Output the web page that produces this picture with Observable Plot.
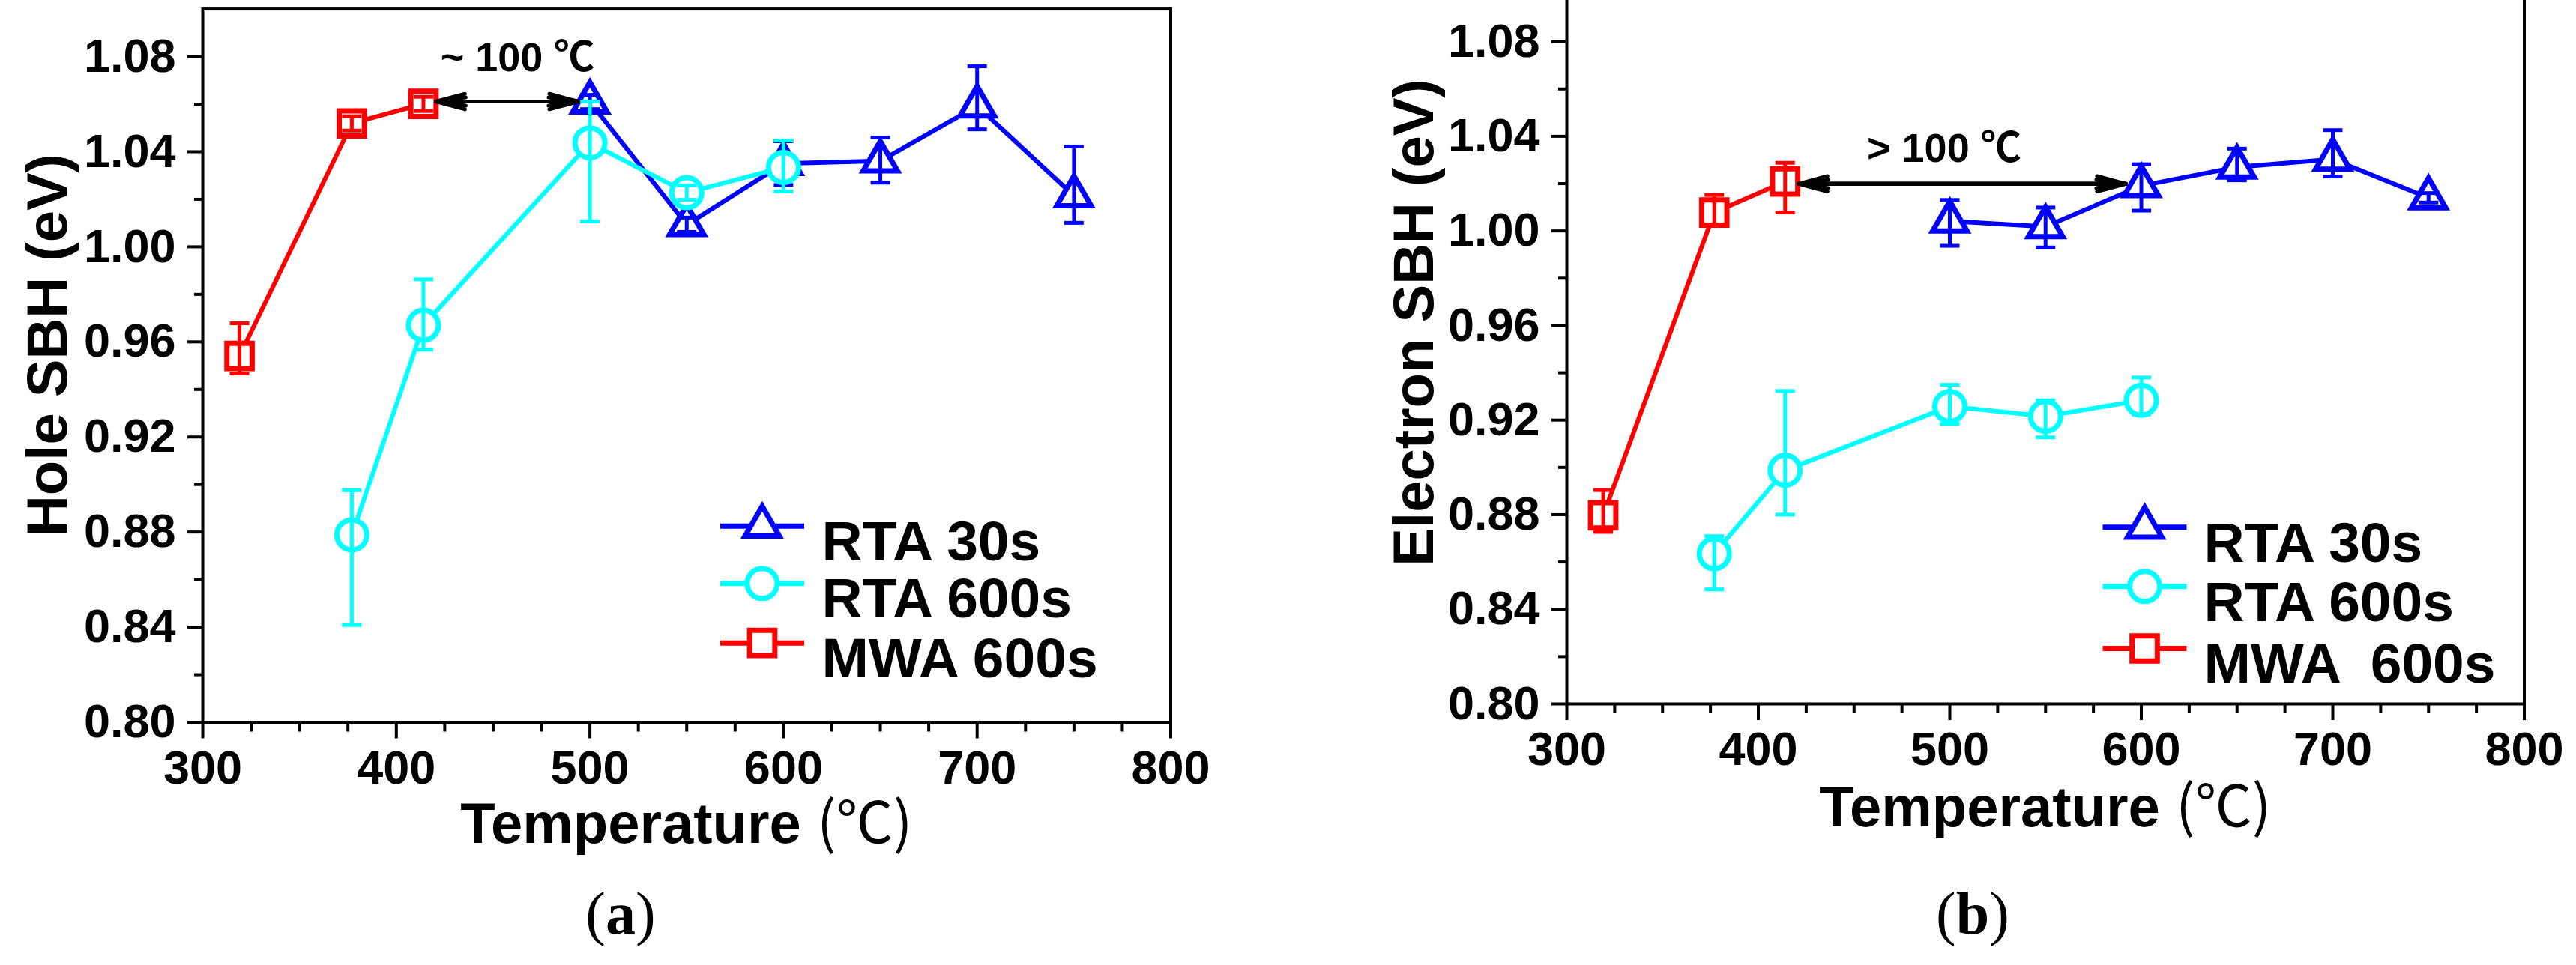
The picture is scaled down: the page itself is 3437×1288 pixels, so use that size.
<!DOCTYPE html>
<html>
<head>
<meta charset="utf-8">
<script src="https://cdn.jsdelivr.net/npm/d3@7"></script>
<script src="https://cdn.jsdelivr.net/npm/@observablehq/plot@0.6"></script>
<style>
  body { margin: 0; background: white; }
  #fig { position: relative; width: 3437px; height: 1288px; overflow: hidden; background: white; }
  #fig svg { position: absolute; overflow: visible; }
</style>
</head>
<body>
<div id="fig"></div>
<script>
// series
const seriesNames = ["RTA 30s", "RTA 600s", "MWA 600s"]
const legendA = ["RTA 30s", "RTA 600s", "MWA 600s"]
const legendB = ["RTA 30s", "RTA 600s", "MWA  600s"]
const seriesColors = ["#0000ff", "#00ffff", "#ff0000"]

// annealing temperatures (℃)
const tempRta30 = [500, 550, 600, 650, 700, 750]
const tempRta600 = [377, 414, 500, 550, 600]
const tempMwa600 = [319, 377, 414]

// (a) hole SBH (eV), upper / lower error
const holeRta30 = [1.0609, 1.0093, 1.0350, 1.0361, 1.0592, 1.0215]
const holeRta30Up = [0.003, 0.003, 0.0094, 0.0099, 0.0167, 0.0207]
const holeRta30Dn = [0.003, 0.003, 0.009, 0.0091, 0.0098, 0.0114]
const holeRta600 = [0.8788, 0.967, 1.0437, 1.0228, 1.0334]
const holeRta600Up = [0.0188, 0.0193, 0.0174, 0.003, 0.0113]
const holeRta600Dn = [0.0379, 0.0103, 0.033, 0.003, 0.0101]
const holeMwa600 = [0.9541, 1.0519, 1.0601]
const holeMwa600Up = [0.0137, 0.003, 0.003]
const holeMwa600Dn = [0.0074, 0.003, 0.003]

// (b) electron SBH (eV), upper / lower error
const elecRta30 = [1.0042, 1.0018, 1.0191, 1.0270, 1.0303, 1.0140]
const elecRta30Up = [0.0089, 0.0081, 0.0091, 0.0078, 0.0123, 0.002]
const elecRta30Dn = [0.0105, 0.0088, 0.0105, 0.0056, 0.0073, 0.002]
const elecRta600 = [0.8635, 0.8988, 0.9258, 0.9216, 0.9284]
const elecRta600Up = [0.0074, 0.0335, 0.0091, 0.0068, 0.0096]
const elecRta600Dn = [0.0151, 0.0188, 0.0074, 0.0089, 0.006]
const elecMwa600 = [0.8797, 1.0078, 1.0209]
const elecMwa600Up = [0.0107, 0.0074, 0.0079]
const elecMwa600Dn = [0.007, 0.0057, 0.0131]

// ticks
const xTicks = [300, 400, 500, 600, 700, 800]
const xMinor = d3.range(325, 800, 25).filter(d => d % 100 !== 0)
const yTicks = [0.80, 0.84, 0.88, 0.92, 0.96, 1.00, 1.04, 1.08]
const yMinor = [0.82, 0.86, 0.90, 0.94, 0.98, 1.02, 1.06]

// gap annotations: label, label position, arrow [x1, x2, y]
const gapLabels = ["~ 100 ℃", "> 100 ℃"]
const gapLabelAt = [[462.6, 1.0794], [497, 1.0348]]
const gapArrows = [[420.5, 494, 1.0611], [421, 592, 1.0199]]

const yTitles = ["Hole SBH (eV)", "Electron SBH (eV)"]
const panelTags = ["a", "b"]

const rows = (name, temps, vals, up, dn) =>
  temps.map((t, i) => ({series: name, temp: t, sbh: vals[i], hi: vals[i] + up[i], lo: vals[i] - dn[i]}))

const panelData = [
  [
    rows(seriesNames[0], tempRta30, holeRta30, holeRta30Up, holeRta30Dn),
    rows(seriesNames[1], tempRta600, holeRta600, holeRta600Up, holeRta600Dn),
    rows(seriesNames[2], tempMwa600, holeMwa600, holeMwa600Up, holeMwa600Dn)
  ],
  [
    rows(seriesNames[0], tempRta30, elecRta30, elecRta30Up, elecRta30Dn),
    rows(seriesNames[1], tempRta600, elecRta600, elecRta600Up, elecRta600Dn),
    rows(seriesNames[2], tempMwa600, elecMwa600, elecMwa600Up, elecMwa600Dn)
  ]
]

// horizontal bar symbol, used for error caps and legend lines
const hbar = {draw(ctx, size) { const w = Math.sqrt(size / Math.PI); ctx.moveTo(-w, 0); ctx.lineTo(w, 0) }}
const symbols = ["triangle", "circle", "square"]
const symR = [17, 20, 19]

// layout of each panel (pixels)
const layout = [
  {left: 0, top: 0, width: 1720, height: 1288, mt: 11.6, mr: 158.5, mb: 324.5, ml: 270,
   titleDx: -206, titleDy: -27.5, xTitleY: 1125, capY: 1246, capX: 828,
   legLine: 746.5, legText: 826, legRows: [690.1, 766.7, 846.1], legTextRows: [683, 759, 839]},
  {left: 1720, top: -20, width: 1717, height: 1308, mt: 12, mr: 69.5, mb: 349, ml: 370,
   titleDx: -203, titleDy: -35.5, xTitleY: 1123, capY: 1266, capX: 912,
   legLine: 771, legText: 850, legRows: [711.3, 790.3, 873], legTextRows: [704, 783, 865]}
]

function panel(p) {
  const L = layout[p]
  const legend = p === 0 ? legendA : legendB
  const marks = [
    Plot.frame({strokeWidth: 4}),
    Plot.axisY({ticks: yTicks, tickSize: 20, tickPadding: 16, strokeWidth: 4, fontSize: 63,
      tickFormat: d3.format(".2f"), label: null}),
    Plot.axisY({ticks: yMinor, tickSize: 11, strokeWidth: 4, tickFormat: () => "", label: null}),
    Plot.axisX({ticks: xTicks, tickSize: 22, tickPadding: 15, strokeWidth: 4, fontSize: 63, label: null}),
    Plot.axisX({ticks: xMinor, tickSize: 13, strokeWidth: 4, tickFormat: () => "", label: null}),
    Plot.text([yTitles[p]], {frameAnchor: "left", rotate: -90, dx: L.titleDx, dy: L.titleDy,
      fontSize: 76, textAnchor: "middle"})
  ]

  panelData[p].forEach((data, i) => {
    const c = seriesColors[i]
    marks.push(
      Plot.line(data, {x: "temp", y: "sbh", stroke: c, strokeWidth: 6}),
      Plot.dot(data, {x: "temp", y: "sbh", symbol: symbols[i], r: symR[i], stroke: c, strokeWidth: 7, fill: "white"}),
      Plot.ruleX(data, {x: "temp", y1: "lo", y2: "hi", stroke: c, strokeWidth: 5}),
      Plot.dot(data, {x: "temp", y: "hi", symbol: hbar, r: 13, stroke: c, strokeWidth: 5}),
      Plot.dot(data, {x: "temp", y: "lo", symbol: hbar, r: 13, stroke: c, strokeWidth: 5})
    )
    // legend row
    marks.push(
      Plot.dot([i], {frameAnchor: "top-left", dx: L.legLine, dy: L.legRows[i], symbol: hbar, r: 56, stroke: c, strokeWidth: 7}),
      Plot.dot([i], {frameAnchor: "top-left", dx: L.legLine, dy: L.legRows[i], symbol: symbols[i], r: symR[i], stroke: c, strokeWidth: 7, fill: "white"}),
      Plot.text([legend[i]], {frameAnchor: "top-left", dx: L.legText, dy: L.legTextRows[i], textAnchor: "start", fontSize: 75})
    )
  })

  // gap arrow (two heads) and its label
  const [ax1, ax2, ay] = gapArrows[p]
  const arrowSeg = [{x1: ax1, x2: ax2, y: ay}]
  for (const ang of [30, 16]) {
    marks.push(
      Plot.arrow(arrowSeg, {x1: "x1", x2: "x2", y1: "y", y2: "y", strokeWidth: 5, headAngle: ang, headLength: 12}),
      Plot.arrow(arrowSeg, {x1: "x2", x2: "x1", y1: "y", y2: "y", strokeWidth: 5, headAngle: ang, headLength: 12})
    )
  }
  marks.push(Plot.text([{t: gapLabels[p], x: gapLabelAt[p][0], y: gapLabelAt[p][1]}],
    {x: "x", y: "y", text: "t", fontSize: 54}))

  const chart = Plot.plot({
    width: L.width,
    height: L.height,
    marginTop: L.mt,
    marginRight: L.mr,
    marginBottom: L.mb,
    marginLeft: L.ml,
    x: {domain: [300, 800]},
    y: {domain: [0.80, 1.10]},
    marks,
    style: {
      background: "transparent",
      fontFamily: '"Liberation Sans", Arial, "Noto Sans CJK SC", sans-serif',
      fontWeight: "bold",
      color: "black",
      overflow: "visible"
    }
  })

  const svg = d3.select(chart)
    .style("left", L.left + "px")
    .style("top", L.top + "px")

  // x title with a lighter ℃ part
  const xt = svg.append("text")
    .attr("x", L.ml + (L.width - L.ml - L.mr) / 2)
    .attr("y", L.xTitleY)
    .attr("text-anchor", "middle")
    .attr("font-size", 76)
  xt.append("tspan").attr("font-weight", "bold").text("Temperature ")
  xt.append("tspan").attr("font-weight", "normal").attr("font-family", '"Noto Sans CJK SC", sans-serif').text("(℃)")

  // panel tag "(a)" / "(b)"
  const cap = svg.append("text")
    .attr("x", L.capX)
    .attr("y", L.capY)
    .attr("text-anchor", "middle")
    .attr("font-family", '"Liberation Serif", "DejaVu Serif", serif')
    .attr("font-weight", "normal")
    .attr("font-size", 80)
  cap.append("tspan").text("(")
  cap.append("tspan").attr("font-weight", "bold").text(panelTags[p])
  cap.append("tspan").text(")")

  d3.select("#fig").append(() => chart)
}

panel(0)
panel(1)
</script>
</body>
</html>
